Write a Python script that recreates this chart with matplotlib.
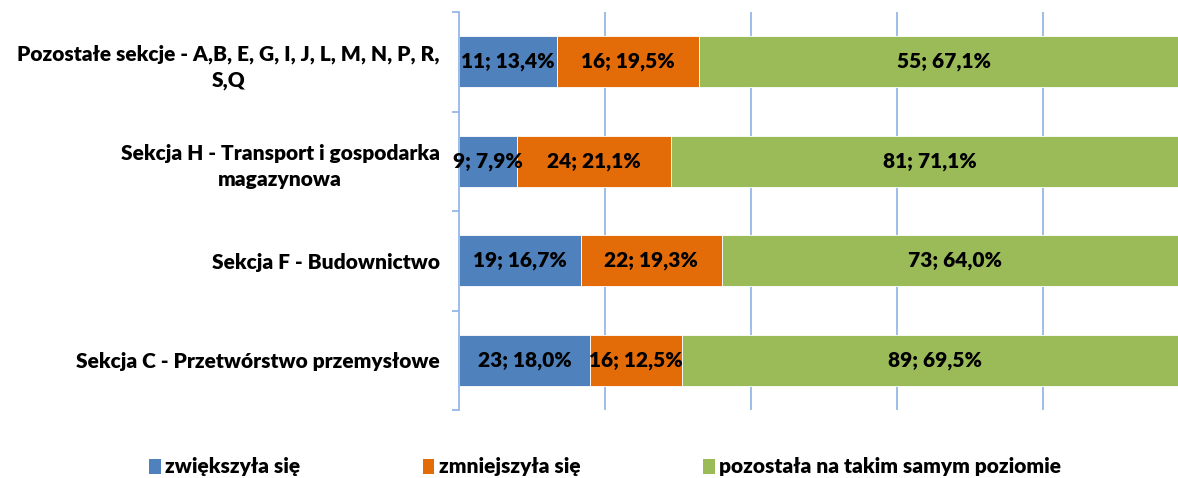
import matplotlib.pyplot as plt
from matplotlib.patches import Patch

# categories from bottom to top
categories = [
    'Sekcja C - Przetwórstwo przemysłowe',
    'Sekcja F - Budownictwo',
    'Sekcja H - Transport i gospodarka\nmagazynowa',
    'Pozostałe sekcje - A,B, E, G, I, J, L, M, N, P, R,\nS,Q',
]
series_names = ['zwiększyła się', 'zmniejszyła się', 'pozostała na takim samym poziomie']
counts_up = [23, 19, 9, 11]
counts_down = [16, 22, 24, 16]
counts_same = [89, 73, 81, 55]
pct_up = [18.0, 16.7, 7.9, 13.4]
pct_down = [12.5, 19.3, 21.1, 19.5]
pct_same = [69.5, 64.0, 71.1, 67.1]

colors = ['#4F81BD', '#E36C09', '#9BBB59']
axis_blue = '#95B9E7'

plt.rcParams['font.family'] = ['Lato', 'DejaVu Sans']
wt = 'heavy'
fs = 15

fig = plt.figure(figsize=(11.78, 4.78), dpi=100)
ax = fig.add_axes([459 / 1178, 1 - 410 / 478, 730 / 1178, 398 / 478])

y = list(range(len(categories)))
left = [0.0] * len(categories)
for counts, pcts, color in [(counts_up, pct_up, colors[0]),
                            (counts_down, pct_down, colors[1]),
                            (counts_same, pct_same, colors[2])]:
    widths = [p / 100 for p in pcts]
    ax.barh(y, widths, left=left, height=0.51, color=color, edgecolor='white', linewidth=0.6)
    for i in range(len(y)):
        label = f'{counts[i]}; {pcts[i]:.1f}%'.replace('.', ',')
        ax.text(left[i] + widths[i] / 2, y[i], label, ha='center', va='center',
                fontsize=fs, fontweight=wt, color='black')
    left = [l + w for l, w in zip(left, widths)]

ax.set_xlim(0, 1)
ax.set_ylim(-0.5, len(categories) - 0.5)

ax.set_xticks([0.2, 0.4, 0.6, 0.8, 1.0])
ax.tick_params(axis='x', length=0, labelbottom=False)
ax.xaxis.grid(True, color=axis_blue, linewidth=1.3)
ax.set_axisbelow(True)

ax.set_yticks(y)
ax.set_yticklabels(categories, fontsize=fs, fontweight=wt)
for lbl in ax.get_yticklabels():
    lbl.set_multialignment('center')
    lbl.set_linespacing(1.45)
ax.tick_params(axis='y', which='major', length=0, pad=14)
ax.set_yticks([i - 0.5 for i in range(len(categories) + 1)], minor=True)
ax.tick_params(axis='y', which='minor', length=5, width=1.3, color=axis_blue)

for s in ['top', 'right', 'bottom']:
    ax.spines[s].set_visible(False)
ax.spines['left'].set_color(axis_blue)
ax.spines['left'].set_linewidth(1.3)

handles = [Patch(facecolor=c, edgecolor='none') for c in colors]
fig.legend(handles, series_names, loc='center', bbox_to_anchor=(605 / 1178, 1 - 467 / 478),
           ncol=3, frameon=False, handlelength=0.55, handleheight=0.75,
           handletextpad=0.2, columnspacing=5.9, prop={'weight': wt, 'size': fs})

fig.savefig('out.png', dpi=100)
